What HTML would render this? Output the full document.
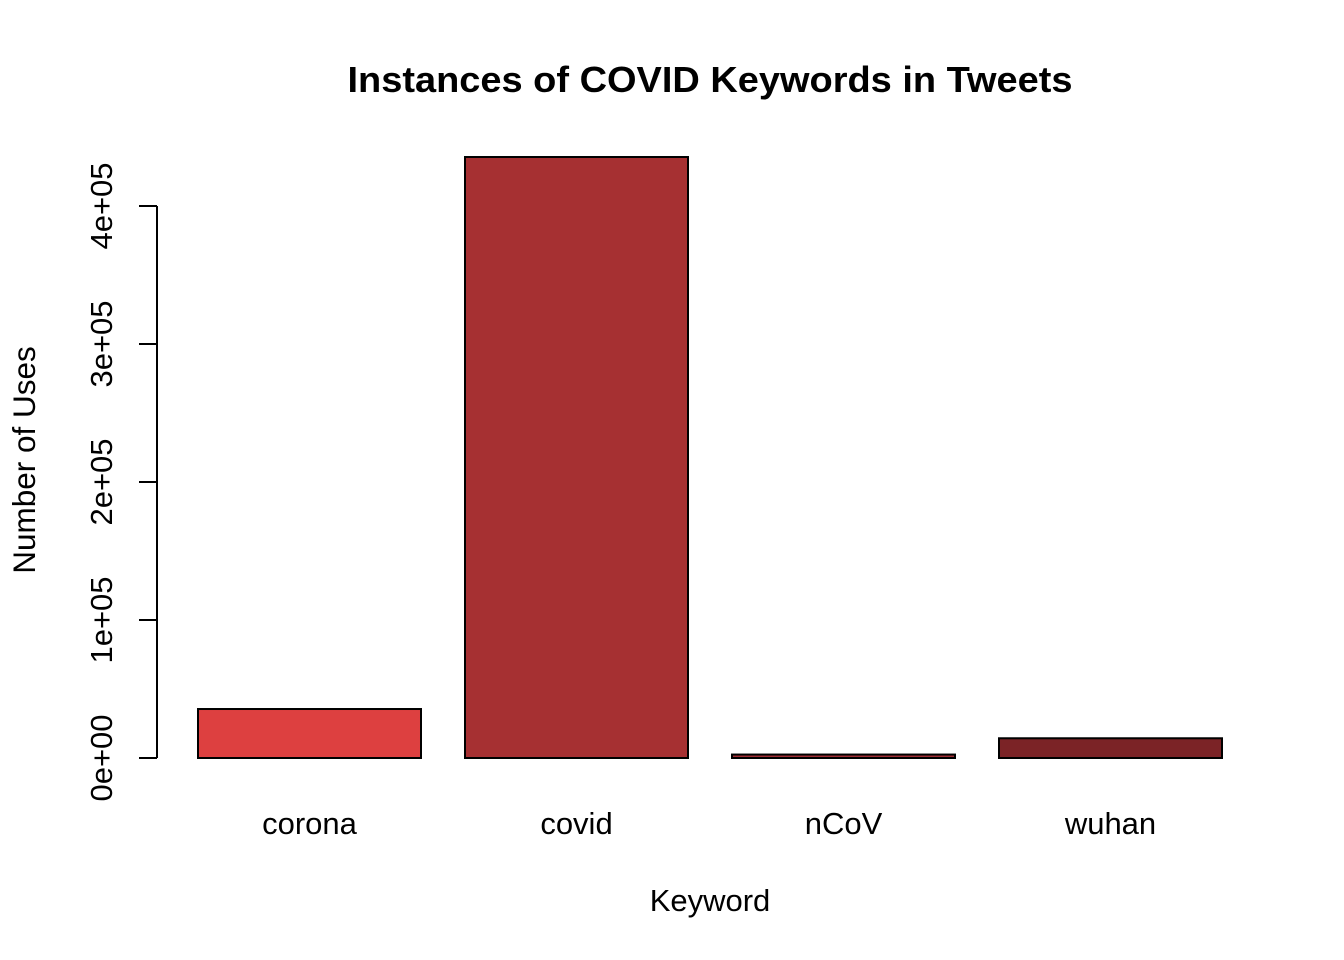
<!DOCTYPE html>
<html><head><meta charset="utf-8"><style>
html,body{margin:0;padding:0;background:#fff}
svg{display:block;font-family:"Liberation Sans",Arial,sans-serif}
</style></head><body>
<svg id="chart" width="1344" height="960">
<text x="710" y="92" text-anchor="middle" font-size="36" font-weight="bold" textLength="725" lengthAdjust="spacingAndGlyphs">Instances of COVID Keywords in Tweets</text>
<text x="710" y="911" text-anchor="middle" font-size="31">Keyword</text>
<text transform="translate(35,460) rotate(-90)" text-anchor="middle" font-size="31.5">Number of Uses</text>
<g id="bars"></g><g id="yaxis"></g><g id="xlabels"></g>
</svg>
<script>
const categories=["corona","covid","nCoV","wuhan"];
const values=[35500,435500,2500,14300];
const colors=["#DD4040","#A63032","#A02E34","#7B2326"];
const yTicks=[0,100000,200000,300000,400000];
const yTickLabels=["0e+00","1e+05","2e+05","3e+05","4e+05"];
const NS="http://www.w3.org/2000/svg";
const y0=758,pxPer=138/100000;
function yScale(v){return y0-v*pxPer;}
function xLeft(i){return 198+i*267;}
const bw=223;
const bars=document.getElementById('bars');
categories.forEach((c,i)=>{
 const r=document.createElementNS(NS,'rect');
 
 
 const top=yScale(values[i]);
 r.setAttribute('x',xLeft(i));r.setAttribute('y',top);
 r.setAttribute('width',bw);r.setAttribute('height',Math.max(y0-top,0.5));
 r.setAttribute('fill',colors[i]);r.setAttribute('stroke','#000');r.setAttribute('stroke-width','2');
 bars.appendChild(r);
 const t=document.createElementNS(NS,'text');
 
 
 t.setAttribute('x',xLeft(i)+bw/2);t.setAttribute('y',834);
 t.setAttribute('text-anchor','middle');t.setAttribute('font-size','31');
 t.textContent=c;
 document.getElementById('xlabels').appendChild(t);
});
const ya=document.getElementById('yaxis');
const ax=document.createElementNS(NS,'line');


ax.setAttribute('x1',157);ax.setAttribute('x2',157);
ax.setAttribute('y1',yScale(yTicks[0]));ax.setAttribute('y2',yScale(yTicks[yTicks.length-1]));
ax.setAttribute('stroke','#000');ax.setAttribute('stroke-width','2');
ya.appendChild(ax);
yTicks.forEach((v,i)=>{
 const y=yScale(v);
 const l=document.createElementNS(NS,'line');
 
 
 l.setAttribute('x1',139);l.setAttribute('x2',157);l.setAttribute('y1',y);l.setAttribute('y2',y);
 l.setAttribute('stroke','#000');l.setAttribute('stroke-width','2');
 ya.appendChild(l);
 const t=document.createElementNS(NS,'text');
 
 
 t.setAttribute('transform','translate(112,'+y+') rotate(-90)');
 t.setAttribute('text-anchor','middle');t.setAttribute('font-size','31');
 t.textContent=yTickLabels[i];
 ya.appendChild(t);
});
</script>
</body></html>
